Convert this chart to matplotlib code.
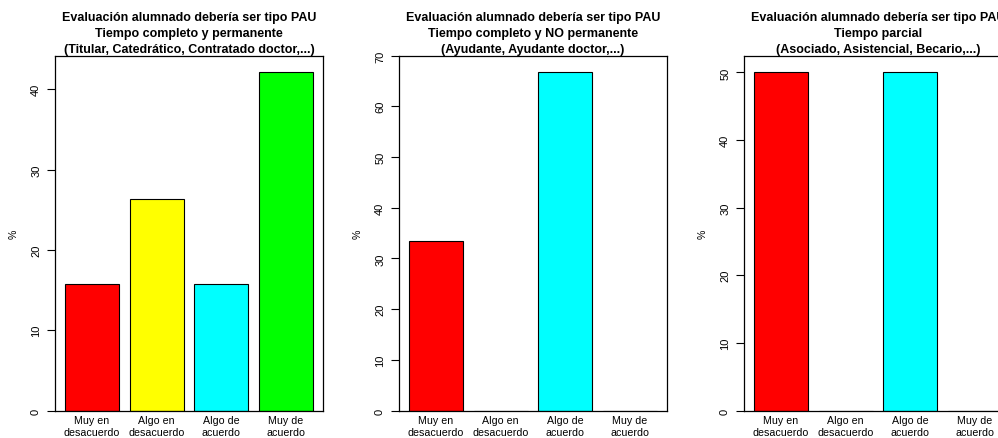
import matplotlib
matplotlib.use('Agg')

import numpy as np
import matplotlib.pyplot as plt

plt.rcParams['font.family'] = ['Liberation Sans', 'DejaVu Sans']

# answer categories (x tick labels) and bar colours
categorias = ['Muy en\ndesacuerdo', 'Algo en\ndesacuerdo', 'Algo de\nacuerdo', 'Muy de\nacuerdo']
colores = ['#ff0000', '#ffff00', '#00ffff', '#00ff00']

# percentages for each group of staff
pct_tc_permanente = [15.79, 26.32, 15.79, 42.11]
pct_tc_no_permanente = [33.33, 0.0, 66.67, 0.0]
pct_tiempo_parcial = [50.0, 0.0, 50.0, 0.0]

titulos = [
    'Evaluación alumnado debería ser tipo PAU\nTiempo completo y permanente\n(Titular, Catedrático, Contratado doctor,...)',
    'Evaluación alumnado debería ser tipo PAU\nTiempo completo y NO permanente\n(Ayudante, Ayudante doctor,...)',
    'Evaluación alumnado debería ser tipo PAU\nTiempo parcial\n(Asociado, Asistencial, Becario,...)',
]
ticks_y = [np.arange(0, 41, 10), np.arange(0, 71, 10), np.arange(0, 51, 10)]

W, H = 998, 439
fig = plt.figure(figsize=(W / 100, H / 100), dpi=100)
fig.patch.set_facecolor('white')

# panel boxes in pixels (left, top), all 268 x 355; the last one runs past the right edge
izquierdas = [55, 399, 744]
top, bottom, ancho = 56.5, 411.5, 268

series = [pct_tc_permanente, pct_tc_no_permanente, pct_tiempo_parcial]

for i, valores in enumerate(series):
    ax = fig.add_axes([izquierdas[i] / W, (H - bottom) / H, ancho / W, (bottom - top) / H])

    # R barplot style: width 1, space 0.2
    centros = 0.7 + 1.2 * np.arange(len(valores))
    ax.bar(centros, valores, width=1.0, color=colores, edgecolor='black', linewidth=0.8)

    ax.set_xlim(0.2 - 0.04 * 4.6, 4.8 + 0.04 * 4.6)
    ax.set_ylim(0, max(valores) * 1.05)

    ax.set_xticks(centros)
    ax.set_xticklabels(categorias, fontsize=7.7, linespacing=1.15)
    ax.tick_params(axis='x', length=0, pad=3.5)

    ax.set_yticks(ticks_y[i])
    ax.set_yticklabels([str(t) for t in ticks_y[i]], rotation=90, va='center', fontsize=8)
    ax.tick_params(axis='y', direction='out', length=6, width=0.8, pad=4)

    for s in ax.spines.values():
        s.set_linewidth(0.9)
        s.set_color('black')

    ax.set_ylabel('%', fontsize=7.7, labelpad=9)
    ax.set_title(titulos[i], fontsize=9, fontweight='bold', pad=2.5, linespacing=1.42)

plt.savefig('out.png', dpi=100, facecolor='white')
plt.close('all')
